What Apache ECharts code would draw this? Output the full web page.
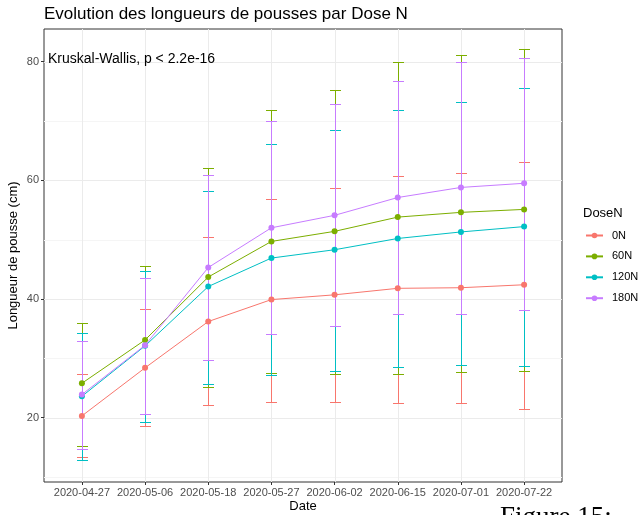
<!DOCTYPE html>
<html>
<head>
<meta charset="utf-8">
<script src="https://cdn.jsdelivr.net/npm/echarts/dist/echarts.min.js"></script>
<style>
html,body{margin:0;padding:0;background:#fff;}
#chart{width:642px;height:515px;}
</style>
</head>
<body>
<div id="chart"></div>
<script>
var dates = ['2020-04-27','2020-05-06','2020-05-18','2020-05-27','2020-06-02','2020-06-15','2020-07-01','2020-07-22'];
var groups = ['0N','60N','120N','180N'];
var colors = ['#F8766D','#7CAE00','#00BFC4','#C77CFF'];

var mean0N   = [20.3, 28.4, 36.2, 39.9, 40.7, 41.8, 41.9, 42.4];
var mean60N  = [25.8, 33.1, 43.7, 49.7, 51.4, 53.8, 54.6, 55.1];
var mean120N = [23.6, 32.1, 42.1, 46.9, 48.3, 50.2, 51.3, 52.2];
var mean180N = [23.9, 32.2, 45.3, 52.0, 54.1, 57.1, 58.8, 59.5];

var low0N    = [13.3, 18.6, 22.1, 22.7, 22.6, 22.5, 22.5, 21.4];
var high0N   = [27.3, 38.3, 50.4, 56.9, 58.7, 60.8, 61.2, 63.1];
var low60N   = [15.3, 20.7, 25.2, 27.6, 27.4, 27.4, 27.7, 27.8];
var high60N  = [36.0, 45.5, 62.1, 71.8, 75.2, 80.0, 81.2, 82.1];
var low120N  = [12.8, 19.2, 25.6, 27.2, 27.8, 28.5, 28.9, 28.7];
var high120N = [34.3, 44.7, 58.2, 66.2, 68.5, 71.8, 73.2, 75.5];
var low180N  = [14.7, 20.6, 29.7, 34.1, 35.4, 37.5, 37.5, 38.1];
var high180N = [33.0, 43.6, 60.9, 70.0, 72.8, 76.7, 80.0, 80.6];

var yTicks = [20, 40, 60, 80];
var yMinorTicks = [10, 30, 50, 70];

var means = [mean0N, mean60N, mean120N, mean180N];
var lows = [low0N, low60N, low120N, low180N];
var highs = [high0N, high60N, high120N, high180N];
var xIdx = dates.map(function (d, i) { return i; });

var FONT = 'Liberation Sans, Arial, sans-serif';

var series = [];
// background gridlines, drawn through the axes' scales
series.push({
  name: 'grid', type: 'custom', z: 0, silent: true,
  data: [0],
  renderItem: function (params, api) {
    var children = [];
    var tl = api.coord([-0.6, 85.5]);
    var br = api.coord([dates.length - 1 + 0.6, 9.16]);
    yMinorTicks.forEach(function (v) {
      var y = Math.round(api.coord([0, v])[1]);
      children.push({ type: 'rect', shape: { x: tl[0], y: y, width: br[0] - tl[0], height: 1 }, style: { fill: '#f5f5f5' } });
    });
    yTicks.forEach(function (v) {
      var y = Math.round(api.coord([0, v])[1]);
      children.push({ type: 'rect', shape: { x: tl[0], y: y, width: br[0] - tl[0], height: 1 }, style: { fill: '#ebebeb' } });
    });
    xIdx.forEach(function (v) {
      var x = Math.round(api.coord([v, 0])[0]);
      children.push({ type: 'rect', shape: { x: x, y: tl[1], width: 1, height: br[1] - tl[1] }, style: { fill: '#ebebeb' } });
    });
    return { type: 'group', children: children };
  }
});

groups.forEach(function (g, k) {
  series.push({
    name: g + ' sd', type: 'custom', z: 6 + k, silent: true,
    data: xIdx.map(function (i) { return [i, lows[k][i], highs[k][i]]; }),
    renderItem: function (params, api) {
      var x = api.value(0);
      var lo = api.coord([x, api.value(1)]);
      var hi = api.coord([x, api.value(2)]);
      var px = Math.round(lo[0]);
      var hw = Math.round(api.size([0.075, 0])[0]);
      var yl = Math.round(lo[1]), yh = Math.round(hi[1]);
      var st = { fill: colors[k], stroke: null };
      return { type: 'group', children: [
        { type: 'rect', shape: { x: px, y: yh, width: 1, height: yl - yh + 1 }, style: st },
        { type: 'rect', shape: { x: px - hw, y: yl, width: 2 * hw + 1, height: 1 }, style: st },
        { type: 'rect', shape: { x: px - hw, y: yh, width: 2 * hw + 1, height: 1 }, style: st }
      ]};
    }
  });
});
groups.forEach(function (g, k) {
  series.push({
    name: g, type: 'line', z: 20 + k,
    data: xIdx.map(function (i) { return [i, means[k][i]]; }),
    symbol: 'circle', symbolSize: 6, showSymbol: true,
    itemStyle: { color: colors[k] },
    lineStyle: { color: colors[k], width: 1 },
    animation: false
  });
});

var chart = echarts.init(document.getElementById('chart'), null, { renderer: 'canvas' });
chart.setOption({
  animation: false,
  backgroundColor: '#ffffff',
  title: [{
    text: 'Evolution des longueurs de pousses par Dose N',
    left: 44, top: 6, padding: 0,
    textStyle: { fontFamily: FONT, fontSize: 17, fontWeight: 'normal', color: '#000' }
  }, {
    text: 'DoseN',
    left: 583, top: 207, padding: 0,
    textStyle: { fontFamily: FONT, fontSize: 13, fontWeight: 'normal', color: '#000' }
  }],
  graphic: [{
    type: 'text', left: 48, top: 52, z: 100,
    style: { text: 'Kruskal-Wallis, p < 2.2e-16', font: '14px ' + FONT, fill: '#000' }
  }, {
    type: 'text', left: 500, top: 504, z: 100,
    style: { text: 'Figure 15: ', font: '27px Liberation Serif, Times New Roman, serif', fill: '#000' }
  }],
  legend: {
    data: groups,
    orient: 'vertical',
    left: 585, top: 230, padding: 0,
    itemWidth: 17, itemHeight: 7, itemGap: 9.9,
    textStyle: { fontFamily: FONT, fontSize: 11, color: '#000', padding: [0, 0, 0, 4] }
  },
  grid: {
    left: 44, right: 80, top: 29, bottom: 33,
    outerBoundsMode: 'none', containLabel: false,
    show: true, borderColor: '#333333', borderWidth: 1, backgroundColor: 'transparent'
  },
  xAxis: {
    type: 'value', min: -0.6, max: dates.length - 1 + 0.6,
    name: 'Date', nameLocation: 'middle', nameGap: 18, nameMoveOverlap: false,
    nameTextStyle: { fontFamily: FONT, fontSize: 13, color: '#000' },
    axisLine: { show: false, onZero: false },
    axisTick: { show: true, length: 3, customValues: xIdx, lineStyle: { color: '#333' } },
    axisLabel: { customValues: xIdx, margin: 5, fontFamily: FONT, fontSize: 11, color: '#4d4d4d',
      formatter: function (v) { return dates[Math.round(v)]; } },
    splitLine: { show: false }
  },
  yAxis: {
    type: 'value', min: 9.16, max: 85.5,
    name: 'Longueur de pousse (cm)', nameLocation: 'middle', nameGap: 24, nameMoveOverlap: false,
    nameTextStyle: { fontFamily: FONT, fontSize: 13, color: '#000' },
    axisLine: { show: false, onZero: false },
    axisTick: { show: true, length: 3, customValues: yTicks, lineStyle: { color: '#333' } },
    axisLabel: { customValues: yTicks, margin: 5, fontFamily: FONT, fontSize: 11, color: '#4d4d4d' },
    splitLine: { show: false }
  },
  series: series
});
</script>
</body>
</html>
